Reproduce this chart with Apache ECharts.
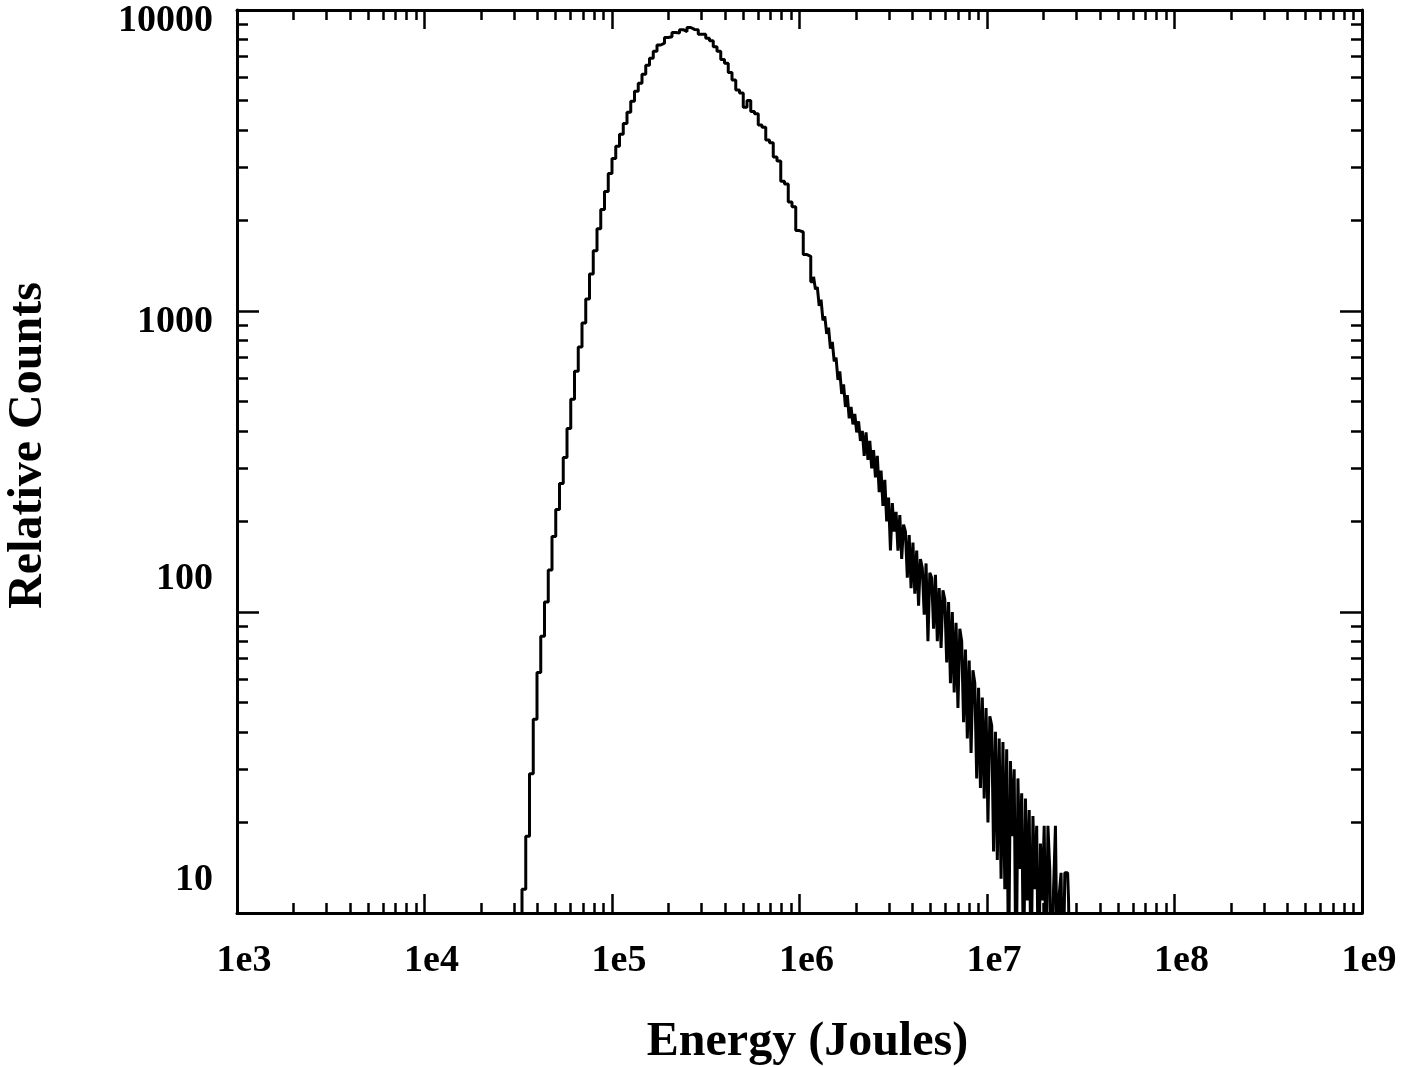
<!DOCTYPE html>
<html>
<head>
  <meta charset="utf-8">
  <script src="https://cdn.jsdelivr.net/npm/echarts@6.0.0/dist/echarts.min.js"></script>
  <style>
    html, body { margin: 0; padding: 0; background: #fff; }
    #chart { width: 1420px; height: 1067px; }
  </style>
</head>
<body>
  <div id="chart"></div>
  <script>
    // histogram bins: log-spaced centres; coarser up to the peak, finer in the noisy tail
    var mainLogStart = 4.49;
    var mainLogWidth = 0.02;
    var tailLogStart = 6.08;
    var tailLogWidth = 0.01;

    // relative counts, bin by bin
    var riseCounts = [
      4, 7, 12, 18, 29, 44, 63, 83, 108, 138,
      178, 219, 267, 326, 407, 509, 631, 759, 912, 1096,
      1328, 1585, 1877, 2172, 2494, 2864, 3213, 3524, 3864, 4198,
      4571, 4977, 5370, 5715, 6120, 6558, 6918, 7300, 7650, 7760
    ];
    var peakCounts = [
      8100, 8150, 8420, 8380, 8600, 8480, 8750, 8620, 8600, 8300,
      8300, 8050, 7900, 7550, 7300, 6850, 6650, 6200, 5850, 5420,
      5300, 4750, 5000, 4600, 4520, 4150, 4080, 3700, 3620, 3250,
      3150, 2700, 2640, 2300, 2220, 1850, 1830, 1540, 1520, 1250
    ];
    var tailCounts = [
      1300, 1180, 1200, 1040, 1090, 930, 960, 840, 880, 750,
      790, 680, 700, 590, 630, 530, 570, 480, 525, 440,
      480, 420, 455, 395, 430, 370, 400, 330, 395, 320,
      370, 300, 345, 280, 330, 250, 295, 225, 275, 200,
      240, 160, 230, 185, 215, 160, 210, 150, 195, 185,
      130, 180, 120, 170, 115, 160, 105, 150, 140, 98,
      145, 80, 135, 130, 88, 133, 80, 120, 76, 118,
      110, 68, 108, 58, 100, 54, 92, 48, 88, 80,
      43, 75, 38, 69, 34, 64, 58, 28, 56, 26,
      52, 24, 48, 20, 45, 42, 16, 40, 15, 38,
      13, 37, 12, 35, 6, 32, 18, 30, 5, 28,
      14, 25, 6, 24, 11, 22, 6, 21, 12, 19.5,
      5, 17, 11, 19.5, 6, 19.5, 13.8, 5, 12, 19.5,
      6, 11.5, 13.6, 5, 13.6, 13.6, 11, 4
    ];

    // axis ticks
    var xDecades = [3, 4, 5, 6, 7, 8, 9];
    var yTickLabels = ['10', '100', '1000', '10000'];
    var minorFactors = [2, 3, 4, 5, 6, 7, 8, 9];

    var mainCounts = riseCounts.concat(peakCounts);
    var seriesData = mainCounts.map(function (c, i) {
      return [Math.pow(10, mainLogStart + i * mainLogWidth), c];
    }).concat(tailCounts.map(function (c, j) {
      return [Math.pow(10, tailLogStart + j * tailLogWidth), c];
    }));

    function minorLogs(from, to) {
      var out = [];
      for (var d = from; d < to; d++) {
        minorFactors.forEach(function (k) { out.push(d + Math.log10(k)); });
      }
      return out;
    }
    var xMinor = minorLogs(xDecades[0], xDecades[xDecades.length - 1]);
    var yMinor = minorLogs(1, 4);

    var font = 'Liberation Serif, Times New Roman, serif';
    var black = '#000';
    var lineW = 3;
    var tickW = 2.5;
    var tickFont = 38;

    function majorX(pos, labels) {
      return {
        type: 'log', logBase: 10, min: 1e3, max: 1e9, position: pos,
        axisLine: { show: true, lineStyle: { color: black, width: lineW } },
        axisTick: { show: true, inside: true, length: 19, lineStyle: { color: black, width: tickW } },
        axisLabel: labels ? {
          show: true, margin: 29, color: black, fontFamily: font, fontWeight: 'bold', fontSize: tickFont,
          padding: [0, 0, 0, 14],
          formatter: function (v) { return '1e' + Math.round(Math.log10(v)); }
        } : { show: false },
        splitLine: { show: false },
        minorTick: { show: false }
      };
    }
    function minorX(pos) {
      return {
        type: 'value', min: 3, max: 9, position: pos,
        axisLine: { show: false },
        axisTick: { show: true, inside: true, length: 10, customValues: xMinor, lineStyle: { color: black, width: tickW } },
        axisLabel: { show: false },
        splitLine: { show: false }
      };
    }
    function majorY(pos, labels) {
      return {
        type: 'log', logBase: 10, min: 10, max: 10000, position: pos,
        axisLine: { show: true, lineStyle: { color: black, width: lineW } },
        axisTick: { show: true, inside: true, length: 22, lineStyle: { color: black, width: tickW } },
        axisLabel: labels ? {
          show: true, margin: 24, color: black, fontFamily: font, fontWeight: 'bold', fontSize: tickFont,
          formatter: function (v) {
            var s = yTickLabels[Math.round(Math.log10(v)) - 1];
            return (v < 500 ? '{lo|' : '{hi|') + s + '}';
          },
          rich: {
            lo: { fontFamily: font, fontWeight: 'bold', fontSize: tickFont, color: black, padding: [0, 0, 66, 0] },
            hi: { fontFamily: font, fontWeight: 'bold', fontSize: tickFont, color: black, padding: [22, 0, 0, 0] }
          }
        } : { show: false },
        splitLine: { show: false },
        minorTick: { show: false }
      };
    }
    function minorY(pos) {
      return {
        type: 'value', min: 1, max: 4, position: pos,
        axisLine: { show: false },
        axisTick: { show: true, inside: true, length: 11, customValues: yMinor, lineStyle: { color: black, width: tickW } },
        axisLabel: { show: false },
        splitLine: { show: false }
      };
    }

    var xMain = majorX('bottom', true);
    xMain.name = 'Energy (Joules)';
    xMain.nameLocation = 'middle';
    xMain.nameGap = 106;
    xMain.nameTextStyle = { color: black, fontFamily: font, fontWeight: 'bold', fontSize: 48, padding: [0, 0, 0, 16] };

    var yMain = majorY('left', true);
    yMain.name = 'Relative Counts';
    yMain.nameLocation = 'middle';
    yMain.nameGap = 184;
    yMain.nameTextStyle = { color: black, fontFamily: font, fontWeight: 'bold', fontSize: 48, padding: [0, 0, 0, 32] };

    var chart = echarts.init(document.getElementById('chart'));
    chart.setOption({
      animation: false,
      backgroundColor: '#fff',
      grid: { left: 237, right: 58, top: 10, bottom: 154, containLabel: false, outerBoundsMode: 'none' },
      xAxis: [xMain, majorX('top', false), minorX('bottom'), minorX('top')],
      yAxis: [yMain, majorY('right', false), minorY('left'), minorY('right')],
      series: [{
        type: 'line',
        xAxisIndex: 0,
        yAxisIndex: 0,
        step: 'middle',
        symbol: 'none',
        clip: true,
        lineStyle: { color: black, width: 3 },
        data: seriesData
      }]
    });
  </script>
</body>
</html>
